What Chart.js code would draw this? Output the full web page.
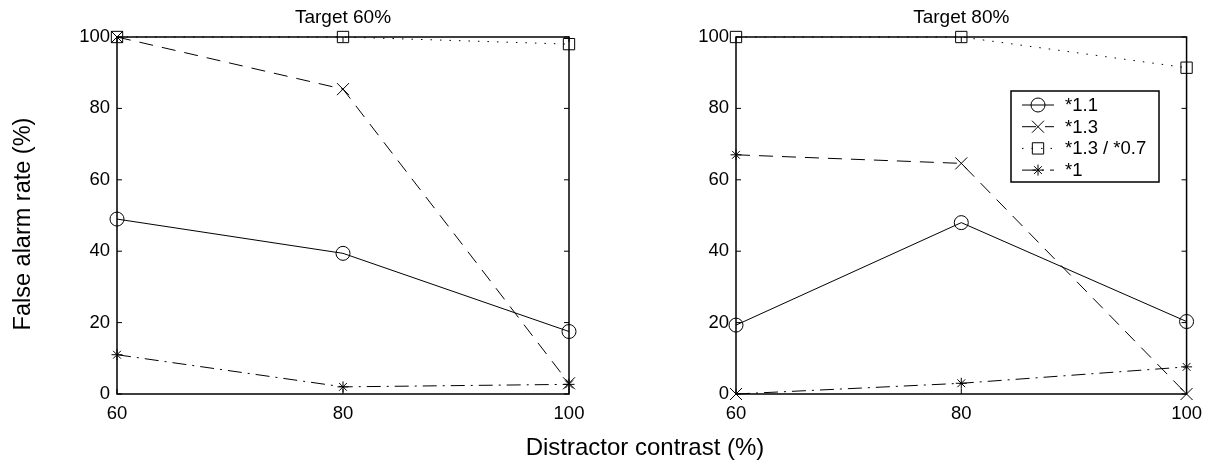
<!DOCTYPE html>
<html>
<head>
<meta charset="utf-8">
<script src="https://cdn.jsdelivr.net/npm/chart.js@4/dist/chart.umd.min.js"></script>
<style>
  body { margin: 0; background: #fff; }
  #wrap { position: relative; width: 1211px; height: 464px; font-family: "Liberation Sans", Arial, sans-serif; color: #000; }
  #c1 { position: absolute; left: 0; top: 0; }
  #c2 { position: absolute; left: 619px; top: 0; }
  #ylab { position: absolute; left: -128px; top: 212px; width: 300px; line-height: 24px; text-align: center; font-size: 23.5px; transform: rotate(-90deg); }
  #xlab { position: absolute; left: 445px; top: 435px; width: 400px; line-height: 24px; text-align: center; font-size: 24px; }
</style>
</head>
<body>
<div id="wrap">
  <canvas id="c1" width="600" height="464"></canvas>
  <canvas id="c2" width="592" height="464"></canvas>
  <div id="ylab">False alarm rate (%)</div>
  <div id="xlab">Distractor contrast (%)</div>
</div>
<script>
const contrast = [60, 80, 100];
const xTicks = [60, 80, 100];
const yTicks = [0, 20, 40, 60, 80, 100];
const seriesNames = ['*1.1', '*1.3', '*1.3 / *0.7', '*1'];

// Target 60%
const t60_11 = [49, 39.4, 17.5];
const t60_13 = [100, 85.4, 3];
const t60_13_07 = [100, 100, 98];
const t60_1 = [11, 2, 2.7];

// Target 80%
const t80_11 = [19.3, 48, 20.3];
const t80_13 = [67, 64.6, 0];
const t80_13_07 = [100, 100, 91.4];
const t80_1 = [0, 3, 7.6];

const FONT = '"Liberation Sans", Arial, sans-serif';

// line style + marker for each series
const styles = [
  { dash: [], point: 'circle', r: 7 },
  { dash: [14, 9], point: 'crossRot', r: 8.5 },
  { dash: [1.5, 8], point: 'rect', r: 8 },
  { dash: [14, 6, 2, 6], point: 'star', r: 5.5 }
];

const frame = {
  id: 'frame',
  beforeDatasetsDraw(chart) {
    const { ctx, chartArea: a, scales } = chart;
    ctx.save();
    ctx.strokeStyle = '#000';
    ctx.lineWidth = 1;
    ctx.beginPath();
    scales.y.ticks.forEach(t => {
      const y = scales.y.getPixelForValue(t.value);
      ctx.moveTo(a.left, y); ctx.lineTo(a.left + 5, y);
      ctx.moveTo(a.right, y); ctx.lineTo(a.right - 5, y);
    });
    scales.x.ticks.forEach(t => {
      const x = scales.x.getPixelForValue(t.value);
      ctx.moveTo(x, a.bottom); ctx.lineTo(x, a.bottom - 5);
      ctx.moveTo(x, a.top); ctx.lineTo(x, a.top + 5);
    });
    ctx.stroke();
    ctx.lineWidth = 1.5;
    ctx.strokeRect(a.left, a.top, a.right - a.left, a.bottom - a.top);
    ctx.restore();
  }
};

const legendBox = {
  id: 'legendBox',
  afterDraw(chart) {
    const ctx = chart.ctx;
    const bx = 392, by = 91, bw = 148, bh = 91;
    ctx.save();
    ctx.fillStyle = '#fff';
    ctx.fillRect(bx, by, bw, bh);
    ctx.strokeStyle = '#000';
    ctx.lineWidth = 1.5;
    ctx.strokeRect(bx, by, bw, bh);
    ctx.font = '18.5px ' + FONT;
    ctx.textBaseline = 'middle';
    seriesNames.forEach((name, i) => {
      const y = 105 + i * 21.7;
      const s = styles[i];
      ctx.lineWidth = 1;
      ctx.setLineDash(s.dash);
      ctx.beginPath();
      ctx.moveTo(403, y); ctx.lineTo(435, y);
      ctx.stroke();
      ctx.setLineDash([]);
      ctx.fillStyle = 'rgba(0,0,0,0)';
      Chart.helpers.drawPoint(ctx, { pointStyle: s.point, radius: s.r, borderWidth: 1, rotation: 0 }, 419, y);
      ctx.fillStyle = '#000';
      ctx.fillText(name, 446, y + 1);
    });
    ctx.restore();
  }
};

function makeChart(id, title, values, pointOverrides, extraPlugins) {
  const datasets = values.map((vals, i) => {
    const s = styles[i];
    const ov = pointOverrides[i];
    return {
      label: seriesNames[i],
      data: contrast.map((c, j) => ({ x: c, y: vals[j] })),
      borderColor: '#000',
      borderWidth: 1,
      borderDash: s.dash,
      backgroundColor: 'transparent',
      pointStyle: ov ? ov.map(o => o.point) : s.point,
      pointRadius: ov ? ov.map(o => o.r) : s.r,
      pointBorderColor: '#000',
      pointBackgroundColor: 'transparent',
      pointBorderWidth: 1,
      tension: 0,
      clip: false
    };
  });

  return new Chart(document.getElementById(id), {
    type: 'line',
    data: { datasets },
    options: {
      responsive: false,
      animation: false,
      layout: { padding: { top: 0, bottom: 30, left: 0, right: id === 'c1' ? 31 : 23 } },
      plugins: {
        legend: { display: false },
        tooltip: { enabled: false },
        title: {
          display: true,
          text: title,
          fullSize: false,
          color: '#000',
          font: { family: FONT, size: 19, weight: 'normal' },
          padding: { top: 6, bottom: 8.2 }
        }
      },
      scales: {
        x: {
          type: 'linear',
          min: 60, max: 100,
          afterBuildTicks: s => { s.ticks = xTicks.map(v => ({ value: v })); },
          afterFit: s => { s.height = 40; },
          grid: { display: false, drawTicks: false },
          border: { display: false },
          ticks: { color: '#000', padding: 9, maxRotation: 0, font: { family: FONT, size: 18.5 } }
        },
        y: {
          min: 0, max: 100,
          afterBuildTicks: s => { s.ticks = yTicks.map(v => ({ value: v })); },
          afterFit: s => { s.width = 117; },
          grid: { display: false, drawTicks: false },
          border: { display: false },
          ticks: { color: '#000', padding: 7, font: { family: FONT, size: 18.5 } }
        }
      }
    },
    plugins: [frame].concat(extraPlugins)
  });
}

makeChart('c1', 'Target 60%', [t60_11, t60_13, t60_13_07, t60_1], [null, null, null, null], []);

// in the right panel the markers at 60 % are swapped between *1.3 and *1
const starP = { point: 'star', r: 5.5 }, xP = { point: 'crossRot', r: 8.5 };
makeChart('c2', 'Target 80%', [t80_11, t80_13, t80_13_07, t80_1],
  [null, [starP, xP, xP], null, [xP, starP, starP]], [legendBox]);
</script>
</body>
</html>
